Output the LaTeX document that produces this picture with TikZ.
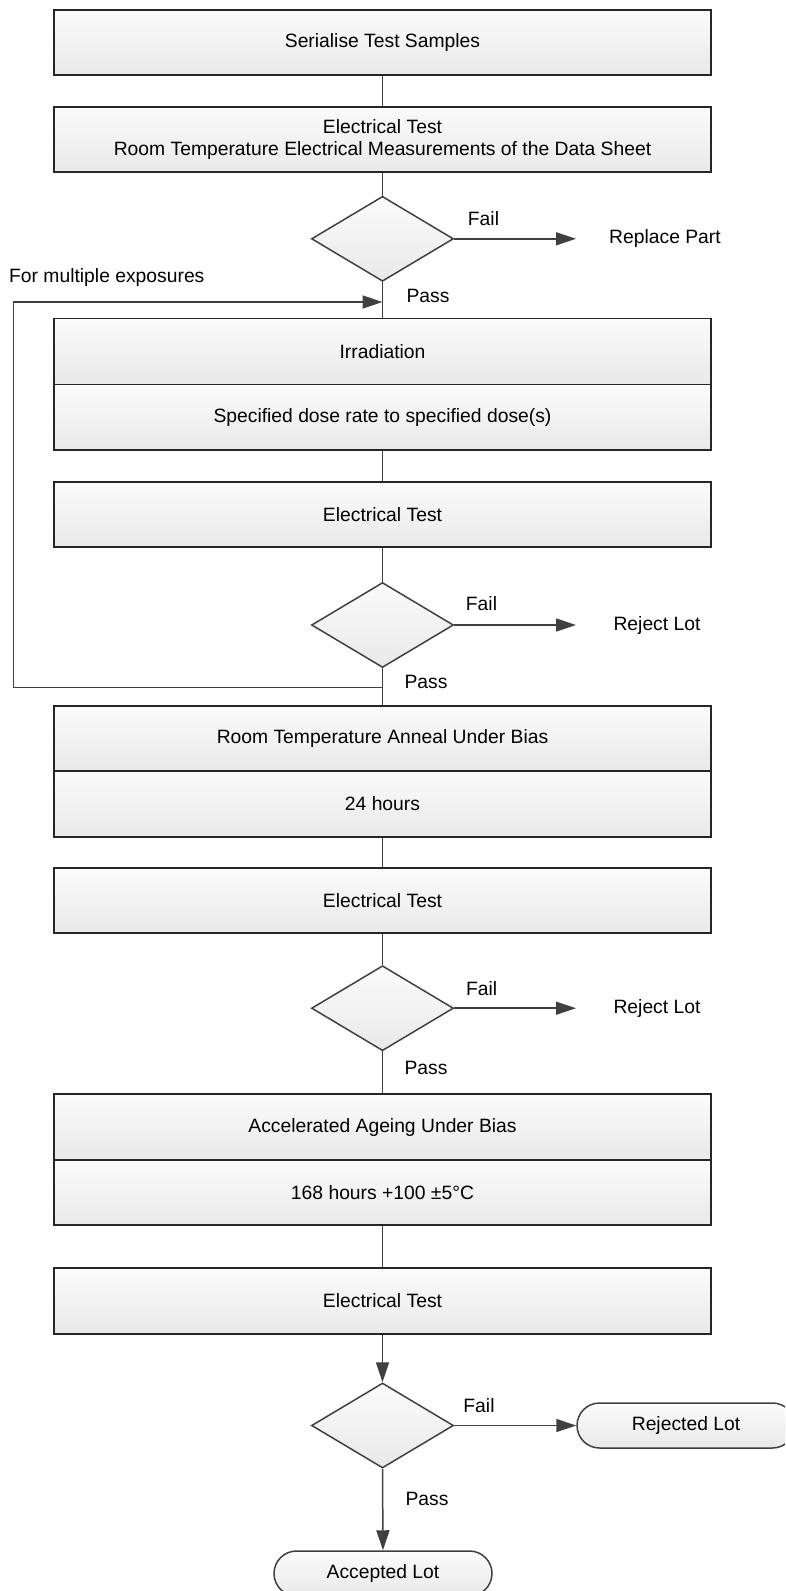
\documentclass[tikz,border=0pt]{standalone}
\usepackage{fontspec}
\setmainfont{Liberation Sans}
\usetikzlibrary{shapes.geometric,arrows.meta}
\definecolor{linec}{HTML}{404040}
\definecolor{boxc}{HTML}{262626}
\definecolor{topc}{HTML}{FBFBFB}
\definecolor{botc}{HTML}{E9E9E9}
\begin{document}
\begin{tikzpicture}[x=1pt,y=-1pt,
  font=\fontsize{19.3}{22.5}\selectfont,
  box/.style={draw=boxc, line width=1.7pt, top color=topc, bottom color=botc,
    minimum width=657pt, minimum height=#1, inner sep=0pt, align=center},
  dec/.style={diamond, draw=linec, line width=1.5pt, top color=topc, bottom color=botc,
    minimum width=142pt, minimum height=85pt, inner sep=0pt},
  term/.style={draw=linec, line width=1.5pt, top color=topc, bottom color=botc,
    rounded corners=22.5pt, minimum width=218pt, minimum height=45pt, inner sep=0pt},
  lbl/.style={inner sep=0pt},
  conn/.style={draw=linec, line width=1.5pt},
  arr/.style={conn, -{Triangle[length=20pt,width=13pt]}}
  ]
\clip (0,0) rectangle (785,1591);
\useasboundingbox (0,0) rectangle (785,1591);

% boxes
\node[box=65pt] (s1) at (382.5,42.5) {Serialise Test Samples};
\node[box=65.6pt] (s2) at (382.5,139.5) {Electrical Test\\Room Temperature Electrical Measurements of the Data Sheet};
\node[dec] (d1) at (382.5,238.8) {};
\node[box=65.9pt] (irrA) at (382.5,351.5) {Irradiation};
\node[box=65.6pt] (irrB) at (382.5,417.2) {Specified dose rate to specified dose(s)};
\node[box=65.6pt] (et1) at (382.5,514.5) {Electrical Test};
\node[dec] (d2) at (382.5,625) {};
\node[box=64.7pt] (annA) at (382.5,738.4) {Room Temperature Anneal Under Bias};
\node[box=66pt] (annB) at (382.5,803.7) {24 hours};
\node[box=65pt] (et2) at (382.5,900.8) {Electrical Test};
\node[dec] (d3) at (382.5,1008.2) {};
\node[box=66pt] (ageA) at (382.5,1127) {Accelerated Ageing Under Bias};
\node[box=65pt] (ageB) at (382.5,1192.5) {168 hours +100 ±5°C};
\node[box=66pt] (et3) at (382.5,1301) {Electrical Test};
\node[dec] (d4) at (382.5,1425.5) {};
\node[term] (rej) at (686,1425.5) {Rejected Lot};
\node[term] (acc) at (383,1573.5) {Accepted Lot};

% labels
\node[lbl] (f1) at (483.5,219) {Fail};
\node[lbl] (rp) at (665,238.8) {Replace Part};
\node[lbl] (p1) at (428,295.7) {Pass};
\node[lbl, anchor=west] (fme) at (9,278) {For multiple exposures};
\node[lbl] (f2) at (481.5,604) {Fail};
\node[lbl] (rl2) at (657,625) {Reject Lot};
\node[lbl] (p2) at (426,681.7) {Pass};
\node[lbl] (f3) at (481.7,988.8) {Fail};
\node[lbl] (rl3) at (657,1008.2) {Reject Lot};
\node[lbl] (p3) at (426,1068) {Pass};
\node[lbl] (f4) at (479,1405.7) {Fail};
\node[lbl] (p4) at (427,1499) {Pass};

% coordinates
\coordinate (e1) at (576,238.8);
\coordinate (e2) at (576,625);
\coordinate (e3) at (576,1008.2);
\coordinate (ls) at (382.5,687.7);
\coordinate (lc1) at (13.3,687.7);
\coordinate (lc2) at (13.3,302);
\coordinate (le) at (382.5,302);

% connectors
\draw[conn] (s1.south) -- (s2.north);
\draw[conn] (s2.south) -- (d1.north);
\draw[arr] (d1.east) -- (e1);
\draw[conn] (d1.south) -- (irrA.north);
\draw[conn] (irrB.south) -- (et1.north);
\draw[conn] (et1.south) -- (d2.north);
\draw[arr] (d2.east) -- (e2);
\draw[conn] (d2.south) -- (annA.north);
\draw[arr] (ls) -- (lc1) -- (lc2) -- (le);
\draw[conn] (annB.south) -- (et2.north);
\draw[conn] (et2.south) -- (d3.north);
\draw[arr] (d3.east) -- (e3);
\draw[conn] (d3.south) -- (ageA.north);
\draw[conn] (ageB.south) -- (et3.north);
\draw[arr] (et3.south) -- (d4.north);
\draw[arr] (d4.east) -- (rej.west);
\draw[arr] (d4.south) -- (acc.north);
\end{tikzpicture}
\end{document}
